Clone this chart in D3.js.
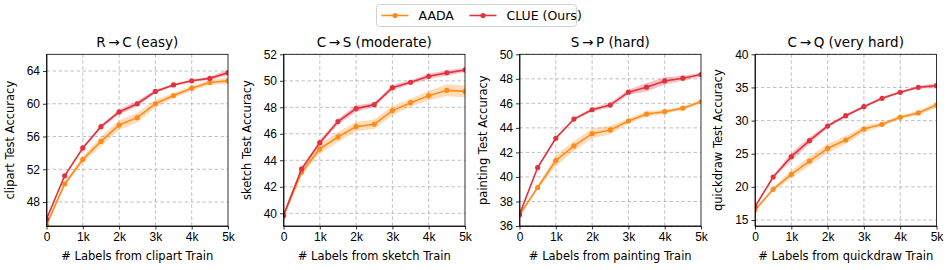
<!DOCTYPE html>
<html>
<head>
<meta charset="utf-8">
<script src="https://cdn.jsdelivr.net/npm/d3@7"></script>
<style>
  body { margin: 0; background: #fff; }
  svg { font-family: "DejaVu Sans", sans-serif; }
  .grid line { stroke: #b0b0b0; stroke-dasharray: 3.5,2.5; stroke-width: 0.8; }
  .axis path, .axis line { stroke: #000; stroke-width: 0.8; }
  .axis text { font-size: 12px; fill: #000; }
</style>
</head>
<body>
<div id="chart"></div>
<script>
const labels = [0, 500, 1000, 1500, 2000, 2500, 3000, 3500, 4000, 4500, 5000];
const xTicks = [0, 1000, 2000, 3000, 4000, 5000];
const xTickLabels = ["0", "1k", "2k", "3k", "4k", "5k"];

const titles = ["R\u2009\u2192\u2009C (easy)", "C\u2009\u2192\u2009S (moderate)", "S\u2009\u2192\u2009P (hard)", "C\u2009\u2192\u2009Q (very hard)"];
const domains = ["clipart", "sketch", "painting", "quickdraw"];

// clipart
const aadaClipart = [45.2, 50.2, 53.2, 55.4, 57.4, 58.3, 60.0, 61.0, 61.9, 62.6, 62.8];
const aadaClipartStd = [0.1, 0.3, 0.4, 0.6, 0.6, 0.6, 0.5, 0.3, 0.3, 0.3, 0.4];
const clueClipart = [45.9, 51.2, 54.6, 57.2, 59.0, 60.0, 61.5, 62.3, 62.8, 63.1, 63.8];
const clueClipartStd = [0.1, 0.15, 0.15, 0.2, 0.3, 0.35, 0.2, 0.15, 0.15, 0.2, 0.35];
const yTicksClipart = [48, 52, 56, 60, 64];

// sketch
const aadaSketch = [39.8, 43.1, 44.86, 45.76, 46.54, 46.72, 47.75, 48.35, 48.88, 49.28, 49.2];
const aadaSketchStd = [0.1, 0.2, 0.35, 0.4, 0.35, 0.35, 0.35, 0.3, 0.35, 0.45, 0.45];
const clueSketch = [39.85, 43.35, 45.33, 46.92, 47.9, 48.2, 49.48, 49.89, 50.34, 50.6, 50.82];
const clueSketchStd = [0.1, 0.15, 0.2, 0.2, 0.25, 0.15, 0.2, 0.15, 0.2, 0.2, 0.15];
const yTicksSketch = [40, 42, 44, 46, 48, 50, 52];

// painting
const aadaPainting = [36.9, 39.14, 41.33, 42.53, 43.53, 43.83, 44.56, 45.13, 45.32, 45.61, 46.13];
const aadaPaintingStd = [0.1, 0.15, 0.45, 0.4, 0.4, 0.35, 0.2, 0.25, 0.15, 0.15, 0.15];
const cluePainting = [36.95, 40.77, 43.15, 44.72, 45.48, 45.86, 46.91, 47.32, 47.83, 48.05, 48.35];
const cluePaintingStd = [0.1, 0.1, 0.1, 0.1, 0.15, 0.2, 0.2, 0.35, 0.3, 0.2, 0.15];
const yTicksPainting = [36, 38, 40, 42, 44, 46, 48, 50];

// quickdraw
const aadaQuickdraw = [16.5, 19.63, 21.89, 23.9, 25.8, 27.07, 28.73, 29.44, 30.49, 31.15, 32.35];
const aadaQuickdrawStd = [0.1, 0.3, 0.6, 0.7, 0.7, 0.6, 0.5, 0.3, 0.3, 0.3, 0.45];
const clueQuickdraw = [17.0, 21.49, 24.56, 26.97, 29.18, 30.74, 32.1, 33.36, 34.27, 35.02, 35.27];
const clueQuickdrawStd = [0.15, 0.2, 0.6, 0.5, 0.25, 0.2, 0.2, 0.2, 0.2, 0.2, 0.4];
const yTicksQuickdraw = [15, 20, 25, 30, 35, 40];

const yRanges = [[45.07, 66.04], [39.04, 52], [36, 50], [14.1, 40]];

const panels = [
    {aada: aadaClipart, aadaStd: aadaClipartStd, clue: clueClipart, clueStd: clueClipartStd, ticks: yTicksClipart},
    {aada: aadaSketch, aadaStd: aadaSketchStd, clue: clueSketch, clueStd: clueSketchStd, ticks: yTicksSketch},
    {aada: aadaPainting, aadaStd: aadaPaintingStd, clue: cluePainting, clueStd: cluePaintingStd, ticks: yTicksPainting},
    {aada: aadaQuickdraw, aadaStd: aadaQuickdrawStd, clue: clueQuickdraw, clueStd: clueQuickdrawStd, ticks: yTicksQuickdraw}
];

const orange = "#ff8c1a";
const red = "#e3313d";

const W = 952, H = 270;
const lefts = [46.5, 283.5, 519.5, 755];
const plotW = 181.5;
const plotTop = 54.3, plotBottom = 226;

const svg = d3.select("#chart").append("svg")
    .attr("width", W)
    .attr("height", H);

panels.forEach(function(p, i) {
    const g = svg.append("g")
        .attr("transform", "translate(" + lefts[i] + "," + plotTop + ")");
    const h = plotBottom - plotTop;

    const x = d3.scaleLinear().domain([0, 5000]).range([0, plotW]);
    const y = d3.scaleLinear().domain(yRanges[i]).range([h, 0]);

    // grid lines
    g.append("g").attr("class", "grid")
        .selectAll("line").data(xTicks.slice(1, -1)).enter().append("line")
        .attr("x1", d => x(d)).attr("x2", d => x(d))
        .attr("y1", 0).attr("y2", h);
    g.append("g").attr("class", "grid")
        .selectAll("line").data(p.ticks).enter().append("line")
        .attr("x1", 0).attr("x2", plotW)
        .attr("y1", d => y(d)).attr("y2", d => y(d));

    const clip = "clip" + i;
    g.append("clipPath").attr("id", clip)
        .append("rect").attr("width", plotW).attr("height", h);

    const series = [
        {v: p.aada, s: p.aadaStd, c: orange},
        {v: p.clue, s: p.clueStd, c: red}
    ];

    const area = d3.area()
        .x((d, j) => x(labels[j]))
        .y0(d => y(d[0] - d[1]))
        .y1(d => y(d[0] + d[1]));
    const line = d3.line()
        .x((d, j) => x(labels[j]))
        .y(d => y(d));

    const plot = g.append("g").attr("clip-path", "url(#" + clip + ")");
    series.forEach(function(s) {
        plot.append("path")
            .datum(s.v.map((d, j) => [d, s.s[j]]))
            .attr("d", area)
            .attr("fill", s.c)
            .attr("fill-opacity", 0.3);
    });
    series.forEach(function(s) {
        plot.append("path")
            .datum(s.v)
            .attr("d", line)
            .attr("fill", "none")
            .attr("stroke", s.c)
            .attr("stroke-width", 1.6);
        plot.selectAll(null)
            .data(s.v).enter().append("circle")
            .attr("cx", (d, j) => x(labels[j]))
            .attr("cy", d => y(d))
            .attr("r", 2.6)
            .attr("fill", s.c);
    });

    // axes
    g.append("g").attr("class", "axis")
        .attr("transform", "translate(0," + h + ")")
        .call(d3.axisBottom(x).tickValues(xTicks)
            .tickFormat((d, j) => xTickLabels[j])
            .tickSize(3.5).tickSizeOuter(0).tickPadding(3));
    g.append("g").attr("class", "axis")
        .call(d3.axisLeft(y).tickValues(p.ticks)
            .tickSize(3.5).tickSizeOuter(0).tickPadding(3));
    g.append("rect")
        .attr("width", plotW).attr("height", h)
        .attr("fill", "none").attr("stroke", "#000").attr("stroke-width", 0.8);

    // title
    g.append("text")
        .attr("x", plotW / 2).attr("y", -7)
        .attr("text-anchor", "middle")
        .style("font-size", "13.5px")
        .text(titles[i]);

    // x label
    g.append("text")
        .attr("x", plotW / 2).attr("y", h + 34)
        .attr("text-anchor", "middle")
        .style("font-size", "11.5px")
        .text("# Labels from " + domains[i] + " Train");

    // y label
    g.append("text")
        .attr("transform", "translate(" + (-33) + "," + (h / 2) + ") rotate(-90)")
        .attr("text-anchor", "middle")
        .style("font-size", "11.5px")
        .text(domains[i] + " Test Accuracy");
});

// legend
const legend = svg.append("g").attr("transform", "translate(376.5,4.5)");
legend.append("rect")
    .attr("width", 200).attr("height", 22)
    .attr("rx", 3)
    .attr("fill", "#fff")
    .attr("stroke", "#d0d0d0");
const legendItems = [
    {name: "AADA", c: orange, x: 4},
    {name: "CLUE (Ours)", c: red, x: 92}
];
legendItems.forEach(function(it) {
    legend.append("line")
        .attr("x1", it.x + 1).attr("x2", it.x + 28)
        .attr("y1", 11).attr("y2", 11)
        .attr("stroke", it.c).attr("stroke-width", 1.6);
    legend.append("circle")
        .attr("cx", it.x + 14.5).attr("cy", 11).attr("r", 2.6)
        .attr("fill", it.c);
    legend.append("text")
        .attr("x", it.x + 38).attr("y", 15.5)
        .style("font-size", "12.5px")
        .text(it.name);
});
</script>
</body>
</html>
